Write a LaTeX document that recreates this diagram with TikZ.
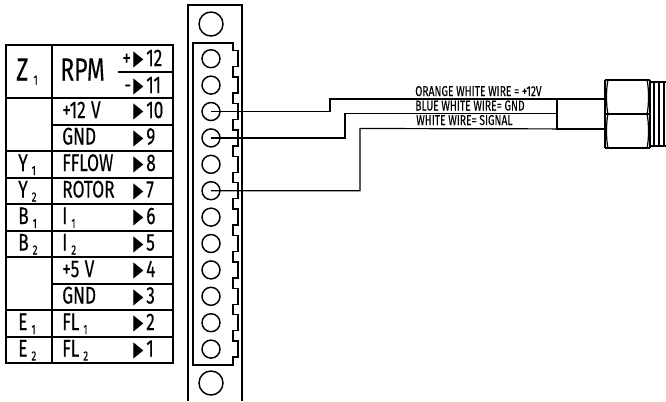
\documentclass[tikz,border=0pt]{standalone}
\usepackage{fontspec}
\setmainfont{Fira Sans}[FakeStretch=0.72, FakeBold=0.2]
\newfontfamily\symfont{DejaVu Sans}[FakeStretch=0.62]
\newcommand{\lowidx}[1]{\,\raisebox{-3pt}{\fontsize{10}{10}\selectfont #1}}
\newcommand{\pinmark}{{\symfont\fontsize{16}{16}\selectfont\raisebox{0.2pt}{▶}}}
\begin{document}
\begin{tikzpicture}[
    x=0.75pt, y=-0.75pt,
    gridline/.style={line width=1.5pt},
    stripline/.style={line width=1.1pt},
    wire/.style={line width=0.9pt},
    rowtext/.style={anchor=base west, inner sep=0pt, font=\fontsize{18}{18}\selectfont},
    bigtext/.style={anchor=base west, inner sep=0pt, font=\fontsize{24}{24}\selectfont},
    wirelabel/.style={anchor=base west, inner sep=0pt, font=\fontsize{10.7}{11}\selectfont},
    pin/.style={circle, draw, line width=1.1pt, minimum size=18pt*0.75, inner sep=0pt},
    bigpin/.style={circle, draw, line width=1.1pt, minimum size=24pt*0.75, inner sep=0pt}
]
    \useasboundingbox (0,0) rectangle (666,401);

    % Table
    \draw[gridline] (6,45) rectangle (173,363);
    \draw[gridline] (52,45) -- (52,363);
    \draw[gridline] (118,72) -- (173,72);
    \draw[gridline] (6,98) -- (173,98);
    \draw[gridline] (52,124.5) -- (173,124.5);
    \foreach \y in {151,177.5,204,230.5,257} {
        \draw[gridline] (6,\y) -- (173,\y);
    }
    \draw[gridline] (52,283.5) -- (173,283.5);
    \foreach \y in {310,336.5} {
        \draw[gridline] (6,\y) -- (173,\y);
    }

    % Top row
    \node[bigtext] (zname) at (16,80.5) {Z\lowidx{1}};
    \node[bigtext] (rpm) at (60,80.5) {RPM};
    \node[rowtext] (plus) at (122,66) {+};
    \node[rowtext] (pinA) at (133,66) {\pinmark};
    \node[rowtext] (numA) at (146,66) {12};
    \node[rowtext] (minus) at (124,93) {-};
    \node[rowtext] (pinB) at (133,93) {\pinmark};
    \node[rowtext] (numB) at (146,93) {11};

    % Other rows
    \foreach \y/\name/\num in {118/+12\hspace{4pt}V/10, 144.5/GND/9, 171/FFLOW/8, 197.5/ROTOR/7,
        224/I\lowidx{1}/6, 250.5/I\lowidx{2}/5, 277/+5\hspace{4pt}V/4, 303.5/GND/3,
        330/FL\lowidx{1}/2, 356.5/FL\lowidx{2}/1} {
        \node[rowtext] (lbl\num) at (62,\y) {\name};
        \node[rowtext] (mark\num) at (133,\y) {\pinmark};
        \node[rowtext] (num\num) at (146,\y) {\num};
    }
    \foreach \y/\name/\idx in {171/Y/1, 197.5/Y/2, 224/B/1, 250.5/B/2, 330/E/1, 356.5/E/2} {
        \node[rowtext] at (18,\y) {\name\lowidx{\idx}};
    }

    % Terminal strip
    \draw[stripline] (188,401) -- (188,5) -- (242,5) -- (242,401);
    \draw[stripline] (193,365) -- (193,43) -- (233,43) -- (233,50.7)
        \foreach \i in {1,...,11} { -- ++(5,0) -- ++(0,16) -- ++(-5,0) -- ++(0,10.4) }
        -- ++(5,0) -- ++(0,16) -- ++(-5,0) -- (233,365) -- cycle;
    \node[bigpin] (top) at (211,24) {};
    \node[bigpin] (bot) at (211,383) {};
    \foreach \i [evaluate=\i as \y using 58.7+26.4*(\i-1)] in {1,...,12} {
        \node[pin] (pin\i) at (211,\y) {};
    }

    % Fitting
    \coordinate (endA) at (605,99);
    \coordinate (endC) at (605,129);
    \coordinate (sleeveA) at (557,99);
    \coordinate (sleeveB) at (557,113.5);
    \coordinate (sleeveC) at (557,129);
    \draw[gridline] (605,80) -- (605,148);
    \draw[gridline] (650,80) -- (650,148);
    \draw[gridline] (605,80) -- (650,80);
    \draw[gridline] (605,148) -- (650,148);
    \draw[gridline] (605,114) -- (650,114);
    \foreach \ya/\yb in {80/114, 114/148} {
        \draw[wire] (608,\ya) .. controls (606,\ya+8) and (606,\yb-8) .. (608,\yb);
        \draw[wire] (647,\ya) .. controls (649,\ya+8) and (649,\yb-8) .. (647,\yb);
    }
    \draw[wire] (650,82) -- (666,82);
    \draw[wire] (650,146) -- (666,146);
    \foreach \x in {654,659,664} {
        \draw[line width=1.2pt] (\x,82) -- (\x,146);
    }

    % Wires
    \draw[wire] (pin3.center) -| (330,99) -- (endA);
    \draw[wire] (pin4.center) -| (345,113.5) -- (sleeveB);
    \draw[wire] (pin6.center) -| (360,128.5) -- (endC);
    \draw[gridline] (sleeveA) -- (sleeveC) -- (endC);

    % Wire labels
    \node[wirelabel] (orange) at (415,96) {ORANGE WHITE WIRE = +12V};
    \node[wirelabel] (blue) at (415,110.5) {BLUE WHITE WIRE= GND};
    \node[wirelabel] (white) at (416,125) {WHITE WIRE= SIGNAL};
\end{tikzpicture}
\end{document}
